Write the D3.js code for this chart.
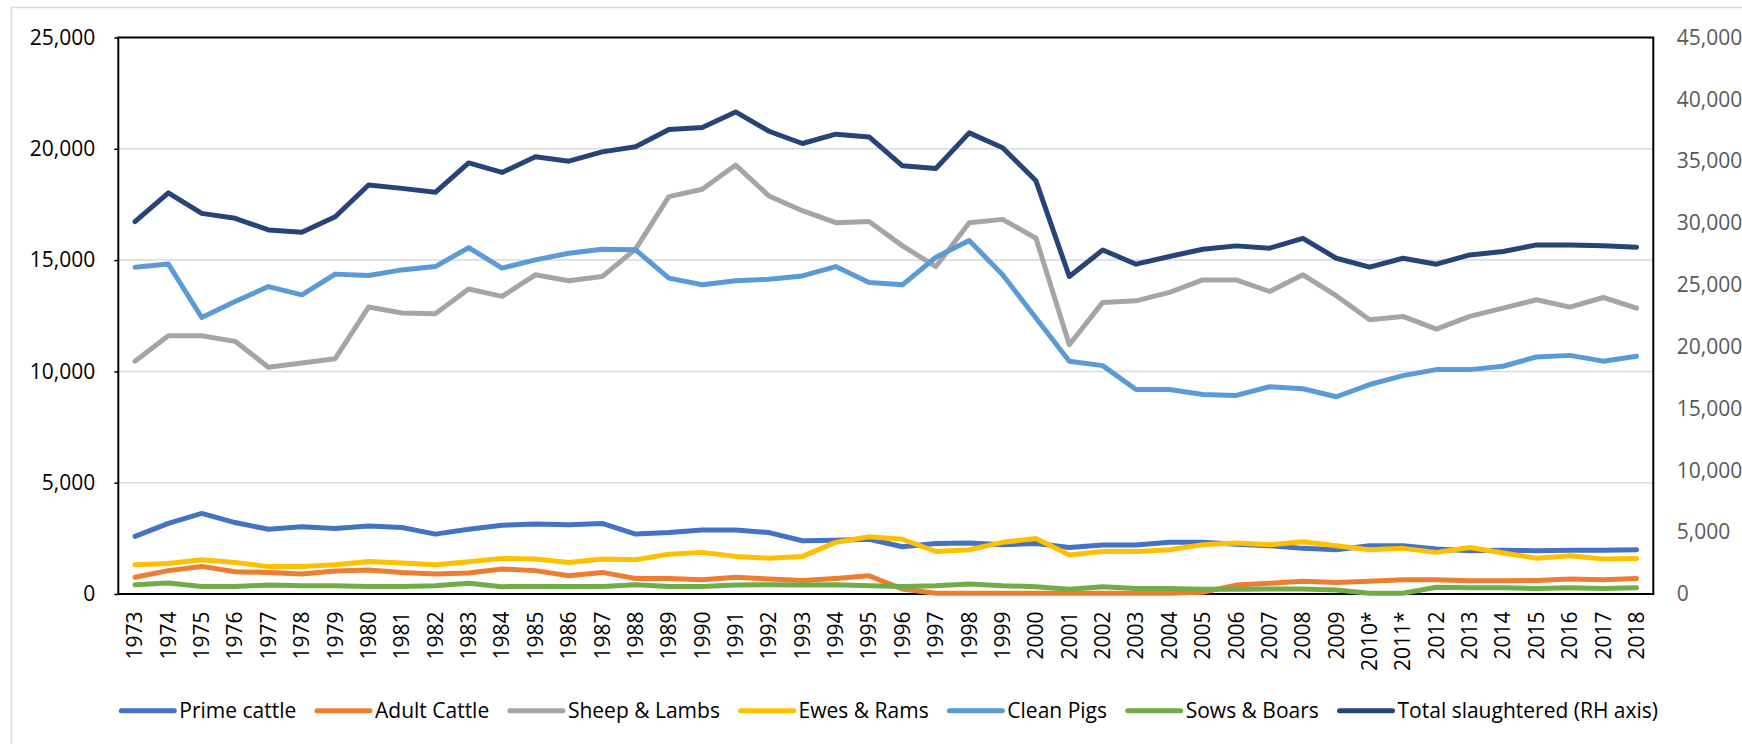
<!DOCTYPE html>
<html>
<head>
<meta charset="utf-8">
<script src="https://cdn.jsdelivr.net/npm/d3@7/dist/d3.min.js"></script>
<style>
  html, body { margin: 0; padding: 0; background: #fff; }
  svg { display: block; font-family: "Open Sans", sans-serif; }
</style>
</head>
<body>
<div id="chart"></div>
<script>
// -- data (thousand head) ---------------------------------------------------
const years = [
  '1973','1974','1975','1976','1977','1978','1979','1980','1981','1982',
  '1983','1984','1985','1986','1987','1988','1989','1990','1991','1992',
  '1993','1994','1995','1996','1997','1998','1999','2000','2001','2002',
  '2003','2004','2005','2006','2007','2008','2009','2010*','2011*','2012',
  '2013','2014','2015','2016','2017','2018'
];

const primeCattle = [
  2590, 3170, 3620, 3210, 2910, 3020, 2940, 3060, 2990, 2690,
  2910, 3090, 3140, 3110, 3170, 2690, 2760, 2870, 2870, 2760,
  2390, 2420, 2460, 2120, 2270, 2290, 2210, 2270, 2090, 2200,
  2200, 2320, 2320, 2240, 2170, 2050, 1990, 2170, 2170, 2020,
  1940, 1970, 1940, 1970, 1970, 1990
];
const adultCattle = [
   750, 1050, 1240, 1000,  970,  900, 1030, 1080,  970,  900,
   940, 1120, 1050,  820,  970,  700,  700,  640,  750,  670,
   610,  700,  820,  220,   30,   30,   30,   30,   30,   30,
    30,   30,   80,  400,  480,  570,  520,  570,  640,  640,
   600,  600,  610,  670,  640,  700
];
const sheepLambs = [
  10460, 11600, 11600, 11350, 10190, 10380, 10570, 12890, 12620, 12590,
  13700, 13370, 14340, 14070, 14260, 15490, 17850, 18180, 19270, 17880,
  17220, 16680, 16730, 15640, 14710, 16680, 16830, 15980, 11200, 13100,
  13170, 13550, 14110, 14110, 13590, 14340, 13400, 12320, 12470, 11900,
  12470, 12840, 13220, 12890, 13320, 12840
];
const ewesRams = [
  1310, 1370, 1540, 1420, 1230, 1240, 1310, 1460, 1390, 1310,
  1450, 1600, 1570, 1420, 1570, 1540, 1790, 1870, 1690, 1610,
  1690, 2320, 2570, 2460, 1910, 1990, 2320, 2490, 1750, 1910,
  1910, 1990, 2210, 2290, 2210, 2350, 2170, 1990, 2050, 1870,
  2090, 1840, 1610, 1720, 1570, 1600
];
const cleanPigs = [
  14680, 14820, 12420, 13140, 13810, 13440, 14370, 14310, 14560, 14710,
  15560, 14640, 15010, 15310, 15490, 15460, 14190, 13890, 14070, 14140,
  14290, 14710, 13990, 13890, 15130, 15880, 14340, 12400, 10460, 10260,
   9190,  9190,  8960,  8920,  9310,  9220,  8860,  9410,  9810, 10080,
  10080, 10230, 10650, 10720, 10460, 10680
];
const sowsBoars = [
  420, 490, 340, 340, 400, 370, 370, 340, 340, 370,
  480, 330, 340, 340, 340, 420, 340, 340, 400, 420,
  400, 420, 370, 340, 370, 450, 370, 330, 210, 330,
  250, 250, 210, 210, 220, 220, 180,  30,  30, 300,
  280, 280, 250, 280, 250, 280
];
const totalSlaughtered = [
  30110, 32440, 30780, 30380, 29440, 29250, 30510, 33070, 32800, 32480,
  34860, 34090, 35350, 35000, 35750, 36160, 37560, 37720, 38980, 37420,
  36430, 37180, 36960, 34620, 34410, 37290, 36080, 33410, 25670, 27820,
  26670, 27290, 27880, 28150, 27960, 28760, 27150, 26430, 27150, 26670,
  27420, 27690, 28230, 28230, 28170, 28040
];

const seriesNames  = ['Prime cattle', 'Adult Cattle', 'Sheep & Lambs', 'Ewes & Rams',
                      'Clean Pigs', 'Sows & Boars', 'Total slaughtered (RH axis)'];
const seriesColors = ['#4472C4', '#ED7D31', '#A5A5A5', '#FFC000',
                      '#5B9BD5', '#70AD47', '#264478'];
const seriesValues = [primeCattle, adultCattle, sheepLambs, ewesRams,
                      cleanPigs, sowsBoars, totalSlaughtered];
const secondary    = [false, false, false, false, false, false, true];

const leftTicks  = d3.range(0, 25001, 5000);
const rightTicks = d3.range(0, 45001, 5000);

// -- layout ------------------------------------------------------------------
const W = 1742, H = 744;
const plot = { left: 118.3, right: 1653.3, top: 37.5, bottom: 594 };

const svg = d3.select('#chart').append('svg')
  .attr('width', W)
  .attr('height', H);

// chart area border runs off the bottom/right of the capture
svg.append('rect')
  .attr('x', 11.5).attr('y', 7.5)
  .attr('width', 1900).attr('height', 900)
  .attr('fill', '#fff')
  .attr('stroke', '#d9d9d9').attr('stroke-width', 1.5);

const x = d3.scalePoint()
  .domain(years)
  .range([plot.left, plot.right])
  .padding(0.5);

const yLeft = d3.scaleLinear()
  .domain([0, 25000])
  .range([plot.bottom, plot.top]);

const yRight = d3.scaleLinear()
  .domain([0, 45000])
  .range([plot.bottom, plot.top]);

// -- gridlines ---------------------------------------------------------------
svg.append('g')
  .selectAll('line')
  .data(leftTicks.filter(d => d > 0 && d < 25000))
  .join('line')
    .attr('x1', plot.left).attr('x2', plot.right)
    .attr('y1', d => yLeft(d)).attr('y2', d => yLeft(d))
    .attr('stroke', '#d9d9d9').attr('stroke-width', 1.5);

// -- plot area border (black box) -------------------------------------------
svg.append('rect')
  .attr('x', plot.left).attr('y', plot.top)
  .attr('width', plot.right - plot.left)
  .attr('height', plot.bottom - plot.top)
  .attr('fill', 'none')
  .attr('stroke', '#000').attr('stroke-width', 2);

// -- axes --------------------------------------------------------------------
const fmt = d3.format(',');

const axL = svg.append('g')
  .attr('transform', `translate(${plot.left},0)`)
  .call(d3.axisLeft(yLeft).tickValues(leftTicks).tickFormat(fmt)
    .tickSize(4).tickPadding(19).tickSizeOuter(0));
axL.select('.domain').remove();
axL.selectAll('line').attr('stroke', '#000').attr('stroke-width', 1.5);
axL.selectAll('text')
  .attr('fill', '#000')
  .style('font-size', '21px')
  .style('font-family', '"Open Sans", sans-serif');

const axR = svg.append('g')
  .attr('transform', `translate(${plot.right},0)`)
  .call(d3.axisRight(yRight).tickValues(rightTicks).tickFormat(fmt)
    .tickSize(0).tickPadding(23.4));
axR.select('.domain').remove();
axR.selectAll('text')
  .attr('fill', '#595959')
  .style('font-size', '21px')
  .style('font-family', '"Open Sans", sans-serif');

// category labels, rotated to read bottom-up
svg.append('g')
  .selectAll('text')
  .data(years)
  .join('text')
    .attr('transform', d => `translate(${x(d)},611.5) rotate(-90)`)
    .attr('text-anchor', 'end')
    .attr('dy', '0.35em')
    .attr('fill', '#000')
    .style('font-size', '21px')
    .text(d => d);

// -- series ------------------------------------------------------------------
const lineFor = scale => d3.line()
  .x((d, i) => x(years[i]))
  .y(d => scale(d));

svg.append('g')
  .selectAll('path')
  .data(seriesValues)
  .join('path')
    .attr('d', (vals, i) => lineFor(secondary[i] ? yRight : yLeft)(vals))
    .attr('fill', 'none')
    .attr('stroke', (vals, i) => seriesColors[i])
    .attr('stroke-width', 5)
    .attr('stroke-linecap', 'round')
    .attr('stroke-linejoin', 'round');

// -- legend ------------------------------------------------------------------
// row spans x 119 .. 1658 in the original; gaps share what the text leaves
const legendY = 710.7, legendX0 = 119.3, legendX1 = 1658;
const swatch = 55, swatchGap = 5;
const legend = svg.append('g');

const items = legend.selectAll('g')
  .data(seriesNames)
  .join('g');

items.append('line')
  .attr('x1', 2).attr('x2', swatch)
  .attr('y1', legendY).attr('y2', legendY)
  .attr('stroke', (d, i) => seriesColors[i])
  .attr('stroke-width', 5)
  .attr('stroke-linecap', 'round');

items.append('text')
  .attr('x', swatch + swatchGap)
  .attr('y', legendY)
  .attr('dy', '0.35em')
  .attr('fill', '#000')
  .style('font-size', '21px')
  .text(d => d);

const widths = [];
items.each(function () {
  widths.push(swatch + swatchGap + d3.select(this).select('text').node().getComputedTextLength());
});
const itemGap = (legendX1 - legendX0 - d3.sum(widths)) / (widths.length - 1);
let cursor = legendX0;
items.attr('transform', (d, i) => {
  const tx = cursor;
  cursor += widths[i] + itemGap;
  return `translate(${tx},0)`;
});
</script>
</body>
</html>
